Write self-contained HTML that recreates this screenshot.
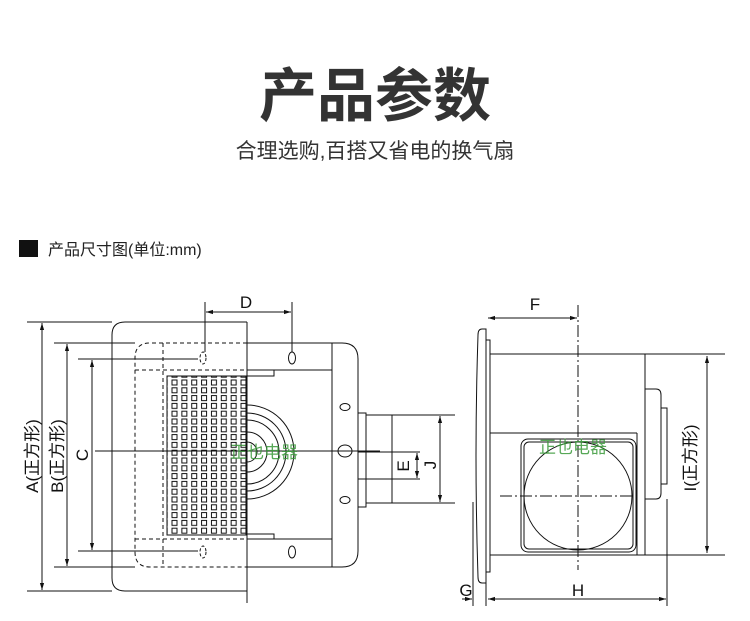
<!DOCTYPE html>
<html><head><meta charset="utf-8">
<style>
html,body{margin:0;padding:0;background:#fff;width:750px;height:621px;overflow:hidden}
svg{display:block}
text{font-family:"Liberation Sans","Noto Sans CJK SC",sans-serif}
</style></head><body>
<svg width="750" height="621" viewBox="0 0 750 621" xmlns="http://www.w3.org/2000/svg">
<defs>
<pattern id="g" x="171.5" y="379.5" width="9.86" height="7.8" patternUnits="userSpaceOnUse">
<rect x="0.5" y="0.5" width="5" height="5" fill="none" stroke="#111" stroke-width="1"/>
</pattern>
<marker id="a" viewBox="0 0 10 10" refX="10" refY="5" markerWidth="7" markerHeight="7" orient="auto-start-reverse"><path d="M0,2 L10,5 L0,8 Z" fill="#111"/></marker>
</defs>
<text x="375" y="116" font-size="58" font-weight="bold" fill="#333" text-anchor="middle" font-family="'Noto Sans CJK SC',sans-serif">产品参数</text>
<text x="375" y="158" font-size="21" fill="#333" text-anchor="middle" font-family="'Noto Sans CJK SC',sans-serif">合理选购,百搭又省电的换气扇</text>
<rect x="19" y="240" width="19" height="17" fill="#111"/>
<text x="48" y="255" font-size="16" fill="#222" font-family="'Noto Sans CJK SC',sans-serif">产品尺寸图(单位:mm)</text>

<g fill="none" stroke="#111" stroke-width="1">
<path d="M247,322 H125 Q112,322 112,335 V578 Q112,591 125,591 H247"/>
<path d="M247,343 H342 Q358,343 358,359 V551 Q358,567 342,567 H247"/>
<path d="M247,343 H150 Q135,343 135,358 V552 Q135,567 150,567 H247" stroke-dasharray="4,3"/>
<line x1="163" y1="343" x2="163" y2="567" stroke-dasharray="4,3"/>
<line x1="135" y1="370" x2="247" y2="370" stroke-dasharray="4,3"/>
<line x1="135" y1="539" x2="247" y2="539" stroke-dasharray="4,3"/>
<line x1="247" y1="370" x2="332" y2="370"/>
<line x1="247" y1="539" x2="332" y2="539"/>
<line x1="332" y1="343" x2="332" y2="567"/>
<path d="M246,376 H274 V370 M246,534 H274 V539"/>
<path d="M247,405 A47,47 0 0 1 247,499"/>
<path d="M247,413 A39,39 0 0 1 247,491"/>
<path d="M247,420 A32,32 0 0 1 247,484"/>
<path d="M247,432 A20,20 0 0 1 247,472"/>
<path d="M247,442 A10,10 0 0 1 247,462"/>
<rect x="167" y="376" width="79" height="159" fill="#fff"/>
<rect x="167" y="376" width="79" height="159" fill="url(#g)" stroke="none"/>
<ellipse cx="203" cy="358" rx="3" ry="6" stroke-dasharray="3,2"/>
<ellipse cx="292" cy="358" rx="3.5" ry="6"/>
<ellipse cx="203" cy="552" rx="3" ry="6" stroke-dasharray="3,2"/>
<ellipse cx="292" cy="552" rx="3.5" ry="6"/>
<ellipse cx="345" cy="407" rx="5" ry="3.5"/>
<ellipse cx="345" cy="451" rx="7" ry="6"/>
<ellipse cx="345" cy="500" rx="5" ry="3.5"/>
<rect x="358" y="413" width="8" height="94"/>
<line x1="366" y1="415" x2="455" y2="415"/>
<line x1="366" y1="503" x2="455" y2="503"/>
<line x1="392" y1="415" x2="392" y2="503"/>
<line x1="358" y1="452" x2="420" y2="452"/>
<line x1="358" y1="479" x2="420" y2="479"/>
<line x1="417" y1="453" x2="417" y2="478" marker-start="url(#a)" marker-end="url(#a)"/>
<line x1="440" y1="416" x2="440" y2="502" marker-start="url(#a)" marker-end="url(#a)"/>
<line x1="95" y1="451" x2="380" y2="451"/>
<line x1="247" y1="322" x2="247" y2="603"/>
<line x1="27" y1="322" x2="112" y2="322"/>
<line x1="27" y1="591" x2="112" y2="591"/>
<line x1="42" y1="323" x2="42" y2="590" marker-start="url(#a)" marker-end="url(#a)"/>
<line x1="54" y1="343" x2="135" y2="343"/>
<line x1="54" y1="567" x2="135" y2="567"/>
<line x1="67" y1="344" x2="67" y2="566" marker-start="url(#a)" marker-end="url(#a)"/>
<line x1="78" y1="359" x2="198" y2="359"/>
<line x1="78" y1="551" x2="198" y2="551"/>
<line x1="92" y1="360" x2="92" y2="550" marker-start="url(#a)" marker-end="url(#a)"/>
<line x1="205" y1="302" x2="205" y2="352"/>
<line x1="292" y1="302" x2="292" y2="352"/>
<line x1="206" y1="312" x2="291" y2="312" marker-start="url(#a)" marker-end="url(#a)"/>

<path d="M486,329 H482 Q478,329 478,335 Q474,456 478,577 Q478,583 482,583 H486 Z"/>
<rect x="486" y="340" width="4" height="232"/>
<line x1="490" y1="354" x2="725" y2="354"/>
<line x1="490" y1="555" x2="725" y2="555"/>
<line x1="645" y1="354" x2="645" y2="555"/>
<line x1="490" y1="433" x2="637" y2="433"/>
<line x1="637" y1="433" x2="637" y2="555"/>
<rect x="521" y="439" width="115" height="113" rx="7"/>
<rect x="524" y="442" width="109" height="107" rx="5"/>
<circle cx="578" cy="496" r="54"/>
<path d="M645,389 H656 Q661,389 661,395 V493 Q661,499 656,499 H645"/>
<rect x="661" y="408" width="6" height="76"/>
<line x1="578" y1="305" x2="578" y2="570" stroke-dasharray="12,3,2,3"/>
<line x1="500" y1="496" x2="635" y2="496" stroke-dasharray="12,3,2,3"/>
<line x1="488" y1="318" x2="577" y2="318" marker-start="url(#a)" marker-end="url(#a)"/>
<line x1="707" y1="356" x2="707" y2="553" marker-start="url(#a)" marker-end="url(#a)"/>
<line x1="667" y1="499" x2="667" y2="606"/>
<line x1="486" y1="583" x2="486" y2="606"/>
<line x1="473" y1="502" x2="473" y2="606"/>
<line x1="488" y1="599" x2="666" y2="599" marker-start="url(#a)" marker-end="url(#a)"/>
<line x1="462" y1="599" x2="472" y2="599" marker-end="url(#a)"/>
</g>

<g fill="#111" font-size="17">
<text x="246" y="308" text-anchor="middle">D</text>
<text x="535" y="310" text-anchor="middle">F</text>
<text x="578" y="596" text-anchor="middle">H</text>
<text x="466" y="596" text-anchor="middle">G</text>
<text x="0" y="0" transform="translate(38,456) rotate(-90)" text-anchor="middle">A(正方形)</text>
<text x="0" y="0" transform="translate(63,456) rotate(-90)" text-anchor="middle">B(正方形)</text>
<text x="0" y="0" transform="translate(88,455) rotate(-90)" text-anchor="middle">C</text>
<text x="0" y="0" transform="translate(409,466) rotate(-90)" text-anchor="middle">E</text>
<text x="0" y="0" transform="translate(436,465) rotate(-90)" text-anchor="middle">J</text>
<text x="0" y="0" transform="translate(696,458) rotate(-90)" text-anchor="middle">I(正方形)</text>
</g>
<g fill="#3a9a3a" font-size="17" opacity="0.85">
<text x="264" y="458" text-anchor="middle">正也电器</text>
<text x="573" y="453" text-anchor="middle">正也电器</text>
</g>
</svg>
</body></html>
